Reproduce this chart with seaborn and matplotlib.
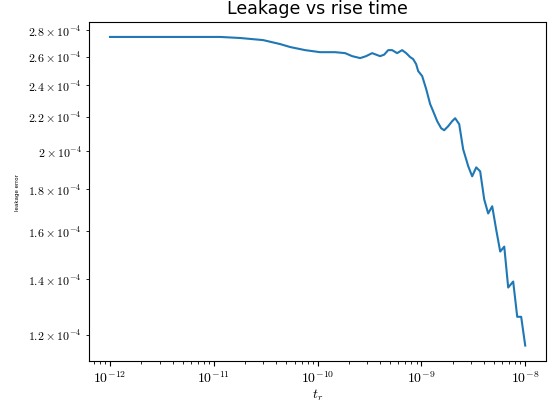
import matplotlib
matplotlib.use("Agg")
import matplotlib.pyplot as plt
import numpy as np
import pandas as pd
import seaborn as sns

# Computer Modern for math and tick labels
plt.rcParams["mathtext.fontset"] = "cm"
plt.rcParams["font.family"] = "serif"
plt.rcParams["font.serif"] = ["cmr10"]
plt.rcParams["axes.formatter.use_mathtext"] = True

# rise time exponents (log10 of t_r in seconds)
tr_exp = [-12.000, -11.614, -11.229, -10.940, -10.747, -10.525, -10.361, -10.265,
          -10.120, -9.976, -9.831, -9.735, -9.667, -9.590, -9.533, -9.475,
          -9.398, -9.359, -9.320, -9.282, -9.234, -9.186, -9.147, -9.108,
          -9.080, -9.051, -9.031, -8.993, -8.954, -8.916, -8.887, -8.848,
          -8.810, -8.781, -8.742, -8.704, -8.675, -8.636, -8.598, -8.549,
          -8.511, -8.472, -8.434, -8.395, -8.357, -8.318, -8.280, -8.241,
          -8.202, -8.164, -8.116, -8.077, -8.039, -8.000]

# leakage in units of 1e-4
leak_e4 = [2.747, 2.747, 2.747, 2.747, 2.739, 2.723, 2.693, 2.671,
           2.648, 2.633, 2.633, 2.626, 2.604, 2.590, 2.604, 2.626,
           2.604, 2.615, 2.648, 2.648, 2.626, 2.648, 2.626, 2.597,
           2.583, 2.547, 2.498, 2.464, 2.376, 2.279, 2.234, 2.173,
           2.131, 2.119, 2.143, 2.173, 2.191, 2.155, 2.010, 1.917,
           1.864, 1.911, 1.890, 1.748, 1.681, 1.715, 1.608, 1.512,
           1.533, 1.368, 1.391, 1.261, 1.261, 1.164]

df = pd.DataFrame({
    "t_r": 10.0 ** np.array(tr_exp),
    "leakage": np.array(leak_e4) * 1e-4,
})

fig = plt.figure(figsize=(5.49, 4.02), dpi=100)
ax = fig.add_axes([0.1626, 0.0995, 0.9945 - 0.1626, 0.944 - 0.0995])

sns.lineplot(data=df, x="t_r", y="leakage", ax=ax, color="#1f77b4", linewidth=1.5)
ax.set_xscale("log")
ax.set_yscale("log")

ax.tick_params(axis="x", which="both", pad=2.5)
ax.tick_params(axis="y", which="both", labelsize=8.6)

ax.set_title("Leakage vs rise time", family="DejaVu Sans", fontsize=12.5)
ax.set_xlabel("$t_r$", labelpad=1)
ax.set_ylabel("leakage error", fontsize=4, family="DejaVu Sans", labelpad=6)

fig.savefig("out.png", dpi=100)
